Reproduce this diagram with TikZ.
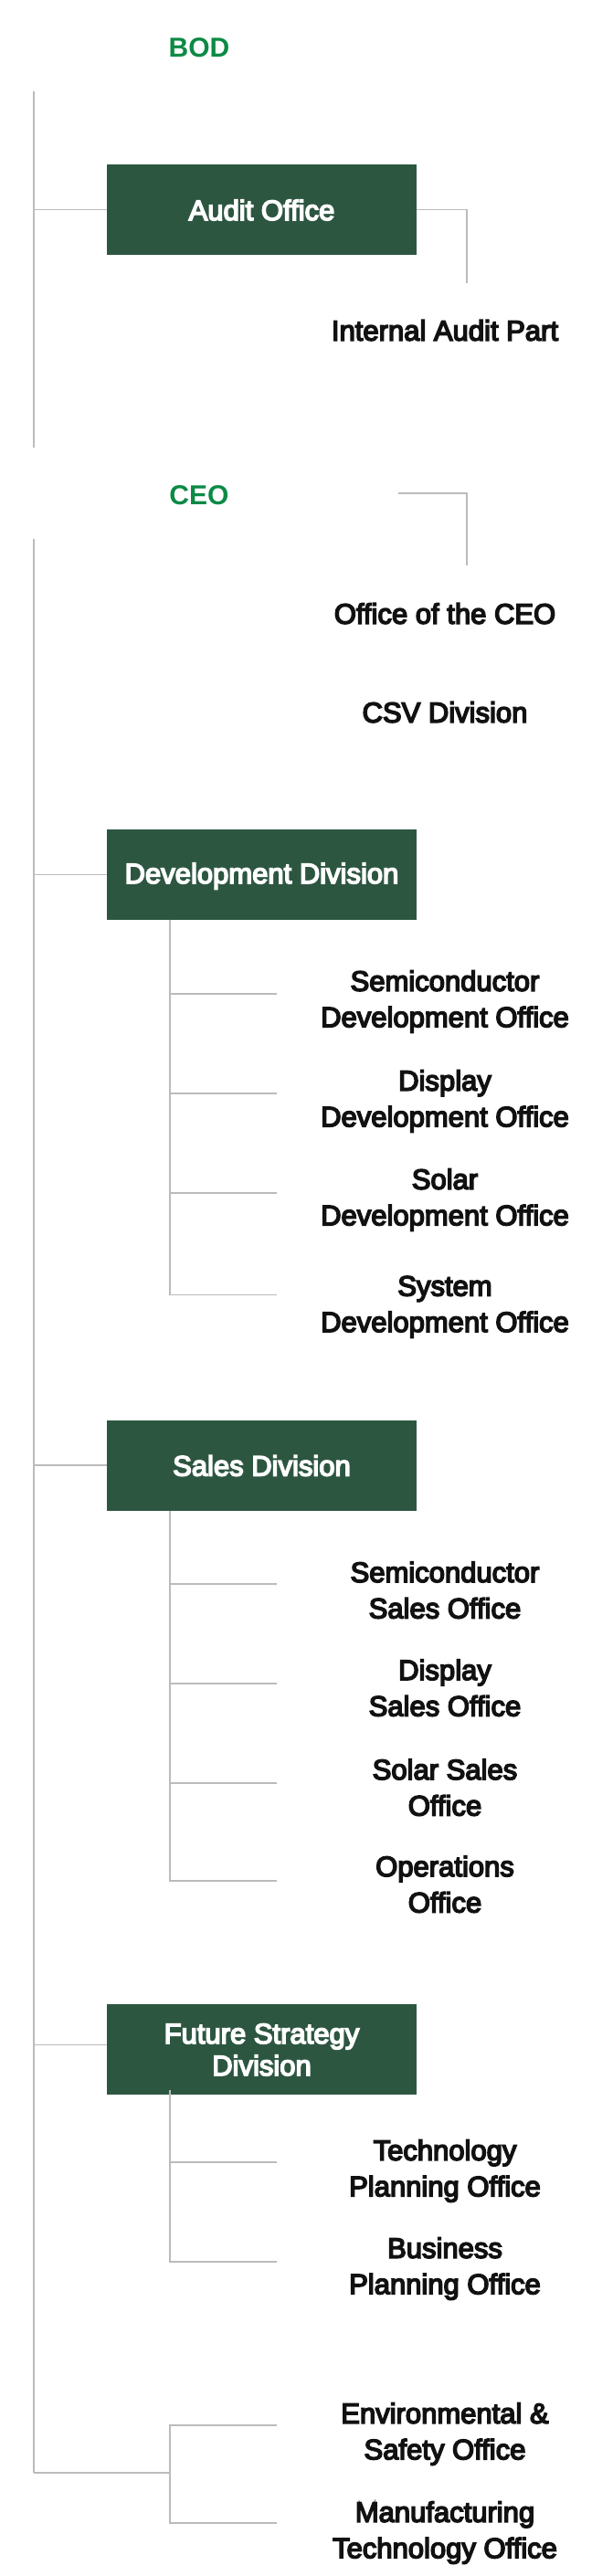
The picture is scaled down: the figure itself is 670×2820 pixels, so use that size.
\documentclass[tikz,border=0pt]{standalone}
\usepackage{fontspec}
\setmainfont{Liberation Sans}
\newfontfamily\itemfam{Liberation Sans}[FakeBold=5]
\newfontfamily\titlefam{Liberation Sans Bold}
\definecolor{boxgreen}{HTML}{2D5641}
\definecolor{titlegreen}{HTML}{0B8A45}
\definecolor{linegray}{HTML}{BBBBBB}
\definecolor{ink}{HTML}{111111}
\newcommand\lst{\rule[-6pt]{0pt}{28pt}}
\tikzset{
  divbox/.style={fill=boxgreen, text=white, minimum width=339pt, minimum height=99pt,
    inner sep=0pt, align=center, font=\itemfam\fontsize{31}{35}\selectfont},
  item/.style={text=ink, align=center, inner sep=0pt, font=\itemfam\fontsize{31}{39.5}\selectfont},
  ttl/.style={text=titlegreen, inner sep=0pt, font=\titlefam\fontsize{30}{36}\selectfont},
  conn/.style={draw=linegray, line width=1.6pt}
}
\begin{document}
\begin{tikzpicture}[x=1pt,y=-1pt]
\useasboundingbox (0,0) rectangle (670,2820);
% titles
\node[ttl] (bod) at (218,55) {BOD\lst};
\node[ttl] (ceo) at (218,544) {CEO\lst};
% boxes
\node[divbox] (audit) at (286.5,229.5) {\raisebox{-3.5pt}{Audit Office}\lst};
\node[divbox] (dev) at (286.5,957.5) {\raisebox{-3.5pt}{Development Division}\lst};
\node[divbox] (sales) at (286.5,1604) {\raisebox{-3.5pt}{Sales Division}\lst};
\node[divbox] (fut) at (286.5,2243.5) {\raisebox{-3pt}{Future Strategy}\lst\\\raisebox{-3pt}{Division}\lst};
% items
\node[item] (iap) at (487,364.5) {Internal Audit Part\lst};
\node[item] (oceo) at (487,674.5) {Office of the CEO\lst};
\node[item] (csv) at (487,782.5) {CSV Division\lst};
\node[item] (dsemi) at (487,1096.5) {Semiconductor\lst\\Development Office\lst};
\node[item] (ddisp) at (487,1205.5) {Display\lst\\Development Office\lst};
\node[item] (dsol) at (487,1313.5) {Solar\lst\\Development Office\lst};
\node[item] (dsys) at (487,1430.5) {System\lst\\Development Office\lst};
\node[item] (ssemi) at (487,1743.5) {Semiconductor\lst\\Sales Office\lst};
\node[item] (sdisp) at (487,1850.5) {Display\lst\\Sales Office\lst};
\node[item] (ssol) at (487,1959.5) {Solar Sales\lst\\Office\lst};
\node[item] (sops) at (487,2065.5) {Operations\lst\\Office\lst};
\node[item] (ftech) at (487,2376.5) {Technology\lst\\Planning Office\lst};
\node[item] (fbus) at (487,2483.5) {Business\lst\\Planning Office\lst};
\node[item] (env) at (487,2664.5) {Environmental \&\lst\\Safety Office\lst};
\node[item] (mfg) at (487,2772.5) {Manufacturing\lst\\Technology Office\lst};
% spine coordinates
\coordinate (s1top) at (37,100);
\coordinate (s1bot) at (37,490);
\coordinate (s2top) at (37,590);
\coordinate (s2bot) at (37,2707);
\coordinate (iapc) at (511,310);
\coordinate (ceoa) at (436,540);
\coordinate (ceob) at (511,619);
\coordinate (subx) at (186,0);
\coordinate (d1) at (303,1088);
\coordinate (d2) at (303,1197);
\coordinate (d3) at (303,1306);
\coordinate (d4) at (303,1417.5);
\coordinate (e1) at (303,1734);
\coordinate (e2) at (303,1843);
\coordinate (e3) at (303,1952);
\coordinate (e4) at (303,2059);
\coordinate (fst) at (186,2288);
\coordinate (f1) at (303,2367);
\coordinate (f2) at (303,2476);
\coordinate (b1) at (303,2655);
\coordinate (b2) at (303,2762);
% connectors
\draw[conn] (s1top) -- (s1bot);
\draw[conn] (audit.west -| s1top) -- (audit.west);
\draw[conn] (audit.east) -| (iapc);
\draw[conn] (ceoa) -| (ceob);
\draw[conn] (s2top) -- (s2bot);
\draw[conn] (dev.west -| s2top) -- (dev.west);
\draw[conn] (sales.west -| s2top) -- (sales.west);
\draw[conn] ([yshift=5pt]fut.west -| s2top) -- ([yshift=5pt]fut.west);
\draw[conn] (dev.south -| subx) |- (d4);
\draw[conn] (d1 -| subx) -- (d1);
\draw[conn] (d2 -| subx) -- (d2);
\draw[conn] (d3 -| subx) -- (d3);
\draw[conn] (sales.south -| subx) |- (e4);
\draw[conn] (e1 -| subx) -- (e1);
\draw[conn] (e2 -| subx) -- (e2);
\draw[conn] (e3 -| subx) -- (e3);
\draw[conn] (fst) |- (f2);
\draw[conn] (f1 -| subx) -- (f1);
\draw[conn] (s2bot) -- (s2bot -| subx);
\draw[conn] (b1) -| (b2 -| subx) -- (b2);
\end{tikzpicture}
\end{document}
